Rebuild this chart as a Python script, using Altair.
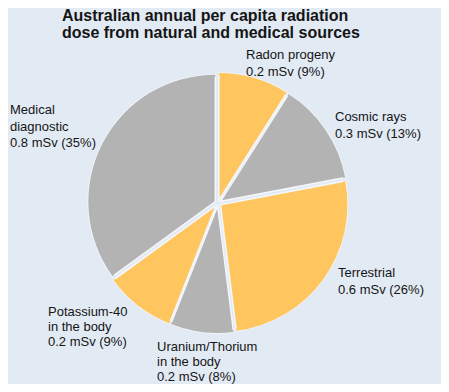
import altair as alt
import pandas as pd

categories = ["Radon progeny", "Cosmic rays", "Terrestrial", "Uranium/Thorium in the body",
              "Potassium-40 in the body", "Medical diagnostic"]
doses = [0.2, 0.3, 0.6, 0.2, 0.2, 0.8]
percents = [9, 13, 26, 8, 9, 35]
kinds = ["orange", "gray", "orange", "gray", "orange", "gray"]

df = pd.DataFrame({"category": categories, "dose": doses, "pct": percents,
                   "kind": kinds, "order": list(range(len(categories)))})

CX, CY, R, OFF = 210, 195, 127, 3
BG = "#E2EAF4"

base = alt.Chart(df).transform_joinaggregate(
    total="sum(pct)"
).transform_window(
    cum="sum(pct)", sort=[alt.SortField("order")], frame=[None, 0]
).transform_calculate(
    t0="(datum.cum - datum.pct) / datum.total * 2 * PI",
    t1="datum.cum / datum.total * 2 * PI",
).transform_calculate(
    mid="(datum.t0 + datum.t1) / 2"
).transform_calculate(
    cx=f"{CX} + {OFF} * sin(datum.mid)",
    cy=f"{CY} - {OFF} * cos(datum.mid)",
)

enc = dict(
    theta=alt.Theta("t0:Q", scale=None),
    theta2="t1:Q",
    x=alt.X("cx:Q", scale=None),
    y=alt.Y("cy:Q", scale=None),
)

pie = base.mark_arc(radius=R, stroke="#F4F7FB", strokeWidth=1.5).encode(
    color=alt.Color("kind:N", scale=alt.Scale(domain=["orange", "gray"],
                                               range=["#FFC660", "#B3B3B3"]), legend=None),
    **enc
)

rim = base.mark_arc(radius=R, radius2=R - 2).encode(
    color=alt.Color("kind:N", scale=alt.Scale(domain=["orange", "gray"],
                                               range=["#E39A2E", "#8E8E8E"]), legend=None),
    **enc
)

FONT = "Liberation Sans"

def label(lines, x, y, size=13, weight="normal", lh=16.5):
    return alt.Chart(pd.DataFrame({"a": [0]})).mark_text(
        text=lines, align="left", baseline="middle", fontSize=size, font=FONT,
        fontWeight=weight, lineHeight=lh, color="#151515"
    ).encode(x=alt.value(x), y=alt.value(y))

title = label(["Australian annual per capita radiation",
               "dose from natural and medical sources"], 54, 8, size=16, weight="bold", lh=17)

labels = [
    label([categories[0], f"{doses[0]} mSv ({percents[0]}%)"], 238, 47),
    label([categories[1], f"{doses[1]} mSv ({percents[1]}%)"], 327, 109),
    label(["Medical", "diagnostic", f"{doses[5]} mSv ({percents[5]}%)"], 2, 102),
    label([categories[2], f"{doses[2]} mSv ({percents[2]}%)"], 330, 265),
    label(["Potassium-40", "in the body", f"{doses[4]} mSv ({percents[4]}%)"], 40, 304, lh=15),
    label(["Uranium/Thorium", "in the body", f"{doses[3]} mSv ({percents[3]}%)"], 149, 339, lh=15),
]

chart = alt.layer(pie, rim, title, *labels).properties(
    width=433, height=376, background=BG, padding=0, autosize="none"
).configure_view(stroke=None)

chart.save("out.html", embed_options={"renderer": "svg", "actions": False})
